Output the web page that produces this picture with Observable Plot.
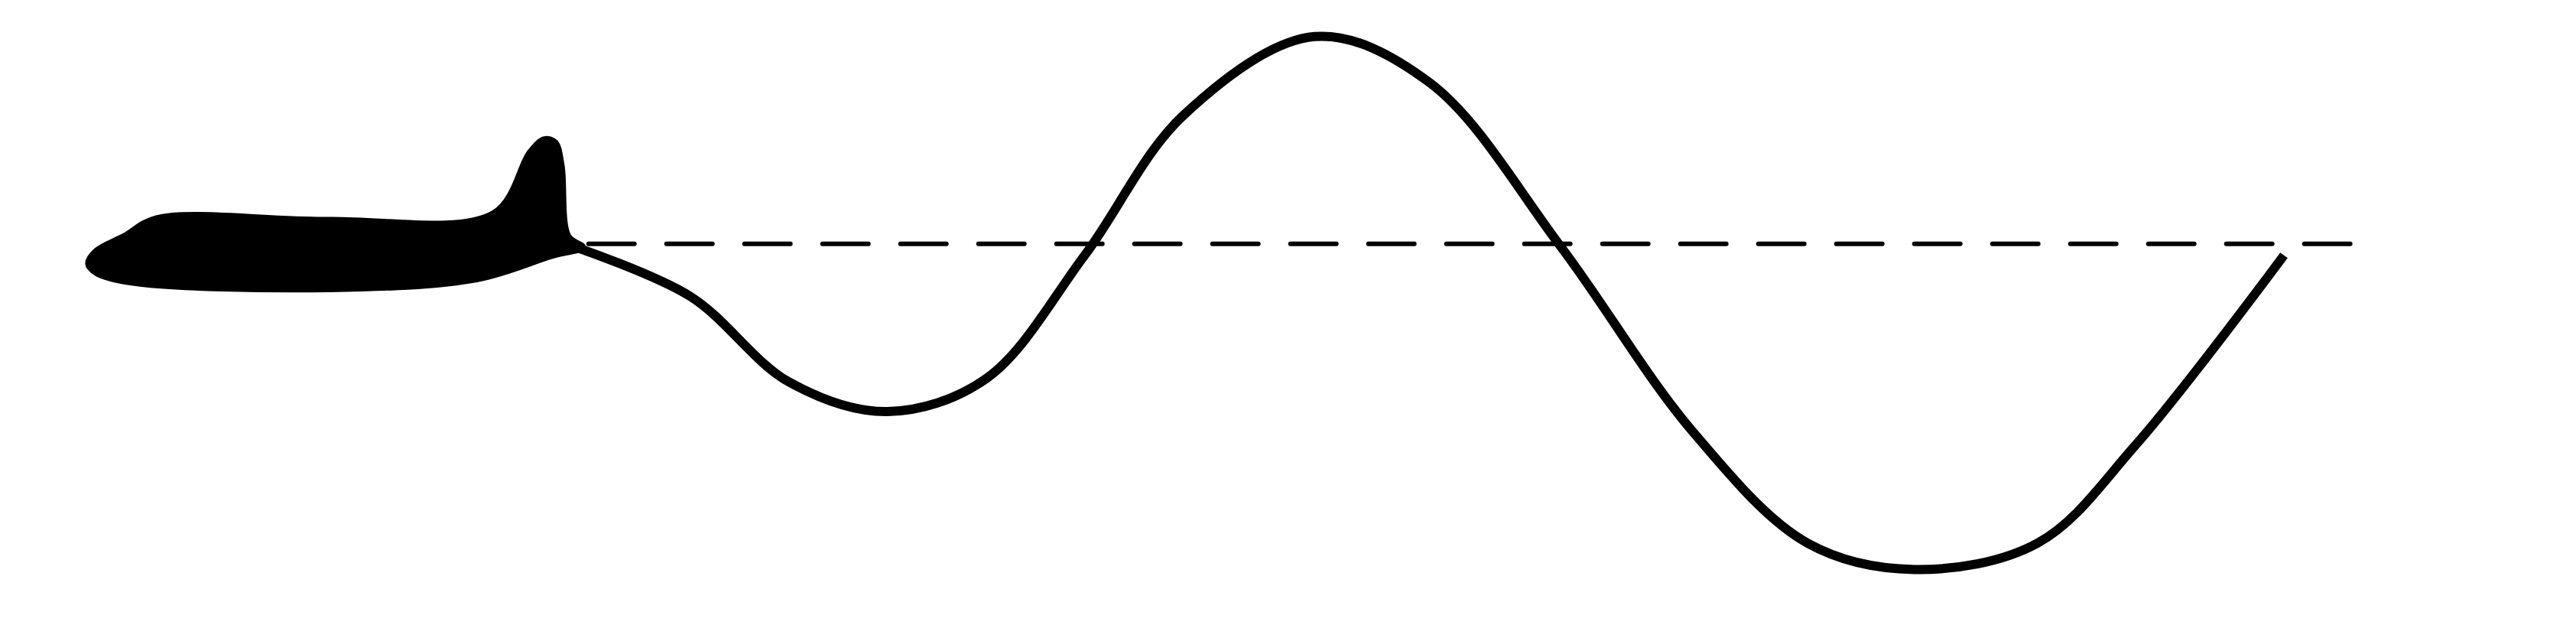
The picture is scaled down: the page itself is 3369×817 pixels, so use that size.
<!DOCTYPE html>
<html><head><meta charset="utf-8">
<script src="https://cdn.jsdelivr.net/npm/d3@7"></script>
<script src="https://cdn.jsdelivr.net/npm/@observablehq/plot@0.6"></script>
<style>body{margin:0;background:#fff}</style>
</head><body><div id="c"></div>
<script>
const planeX = [53,58,75,95,200,300,322,331,338,342,346,355,335,290,200,80,58];
const planeY = [160,152,143,132,133,129,92,84,86,100,143,150,156,170,176,172,166];
const waveX = [350,420,480,540,600,660,720,800,870,950,1030,1100,1165,1240,1300,1390];
const waveY = [150,180,232,250,230,155,70,22,50,150,262,330,346,330,270,155];
const refX = [358,1440];
const refY = [148,148];
const plane = planeX.map((x,i)=>({x,y:planeY[i]}));
const wave = waveX.map((x,i)=>({x,y:waveY[i]}));
const ref = refX.map((x,i)=>({x,y:refY[i]}));
const chart = Plot.plot({
  width:3369, height:817, margin:0,
  x:{domain:[0,1568], axis:null},
  y:{domain:[380,0], axis:null},
  marks:[
    Plot.line(ref,{x:"x",y:"y",stroke:"black",strokeWidth:6,strokeDasharray:"60,42"}),
    Plot.line(wave,{x:"x",y:"y",stroke:"black",strokeWidth:12,curve:"catmull-rom",strokeLinecap:"butt"}),
    Plot.line(plane,{x:"x",y:"y",fill:"black",stroke:"black",strokeWidth:6,curve:"catmull-rom-closed"})
  ]
});
document.getElementById("c").append(chart);
</script></body></html>
